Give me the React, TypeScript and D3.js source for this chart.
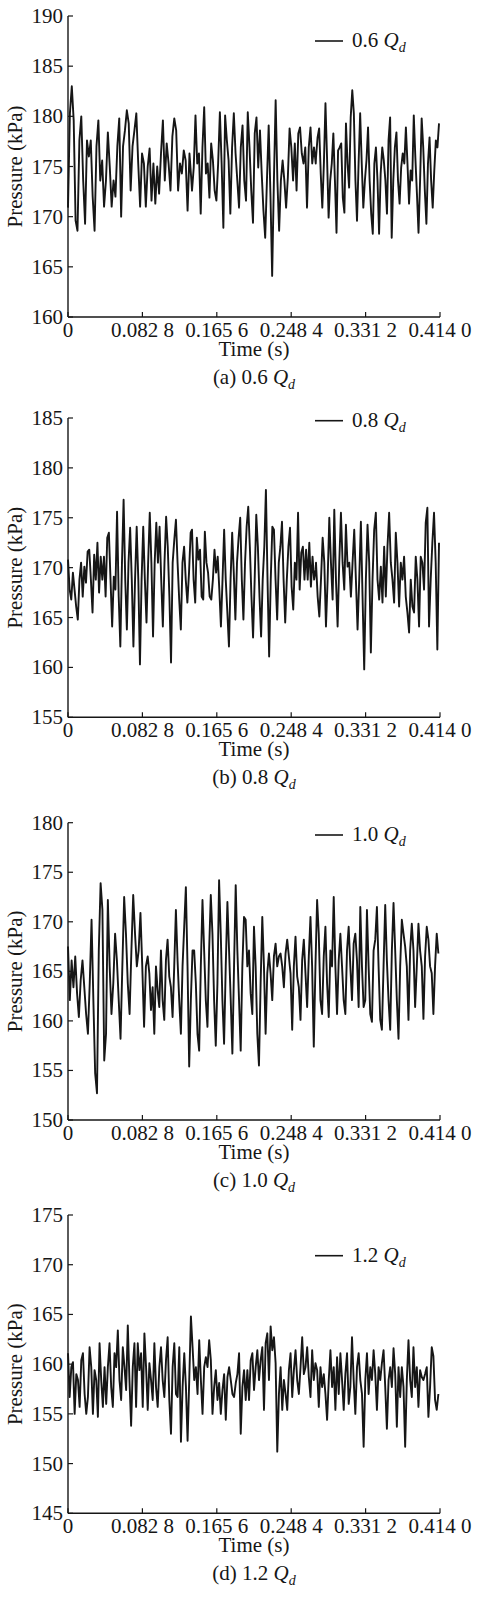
import React from "react";
import * as d3 from "d3";

// ---------- shared axis data ----------
const timeTicks = [0, 0.0828, 0.1656, 0.2484, 0.3312, 0.414];
const timeTickLabels = ["0", "0.082 8", "0.165 6", "0.248 4", "0.331 2", "0.414 0"];
const timeDomain = [0, 0.414];

// ---------- panel (a) 0.6 Qd ----------
const yDomainA = [160, 190];
const yTicksA = [160, 165, 170, 175, 180, 185, 190];
const spansA = [[0, 0.1373], [0.138, 0.2757], [0.276, 0.4129]];
const pressureA1 = [170.9, 180.3, 183.0, 179.6, 169.6, 168.6, 177.6, 180.0, 173.6, 169.3, 177.6, 176.0, 177.6, 172.0, 168.6, 177.0, 179.6, 173.6, 175.6, 171.0, 173.6, 178.4, 175.0, 171.0, 173.6, 172.0, 177.0, 179.8, 170.0, 177.0, 178.6, 180.6, 179.3, 172.6, 177.0, 178.6, 180.3, 175.3, 171.0, 176.3, 175.3, 171.0, 175.0, 176.8, 171.6, 175.3, 171.3, 175.0, 172.3, 176.3, 179.6, 173.6, 177.3, 175.3, 172.6, 178.0, 179.8, 178.6, 172.6, 175.3, 174.3, 176.6, 175.6, 170.6, 176.3, 173.6];
const pressureA2 = [172.6, 174.9, 180.1, 175.3, 176.3, 170.3, 176.9, 180.9, 174.3, 175.3, 171.9, 177.3, 175.6, 172.6, 171.6, 175.3, 180.4, 175.3, 168.9, 180.1, 177.6, 175.6, 170.3, 176.9, 180.3, 176.3, 173.6, 170.9, 176.9, 179.1, 173.6, 171.6, 180.4, 176.9, 172.6, 169.4, 178.3, 179.9, 174.9, 178.6, 174.3, 170.6, 167.9, 173.6, 179.1, 172.3, 164.1, 173.6, 181.6, 173.6, 168.6, 173.6, 175.6, 173.6, 170.9, 173.9, 178.8, 176.9, 173.6, 177.3, 172.6, 178.3, 178.9, 176.3, 175.3, 176.9, 170.9, 176.9, 178.9, 175.3, 176.9, 175.3];
const pressureA3 = [175.9, 177.9, 178.8, 174.3, 170.9, 175.3, 181.3, 175.9, 169.9, 173.6, 175.3, 178.3, 173.6, 168.4, 176.6, 176.9, 177.3, 171.9, 170.4, 179.3, 175.3, 172.9, 179.9, 182.6, 180.3, 173.6, 169.6, 175.3, 180.3, 175.3, 170.9, 173.6, 175.6, 178.9, 173.6, 170.3, 168.3, 175.3, 176.9, 173.6, 168.3, 174.3, 176.9, 175.6, 173.6, 170.3, 177.6, 179.9, 167.9, 173.6, 176.9, 178.4, 173.6, 171.3, 174.9, 176.3, 175.3, 178.9, 175.3, 171.3, 174.6, 173.6, 180.1, 175.9, 172.3, 168.4, 173.6, 179.8, 176.9, 172.6, 169.3, 175.3, 177.9, 173.6, 170.9, 174.6, 177.6, 176.9, 179.3];

// ---------- panel (b) 0.8 Qd ----------
const yDomainB = [155, 185];
const yTicksB = [155, 160, 165, 170, 175, 180, 185];
const spansB = [[0, 0.1365], [0.138, 0.2757], [0.276, 0.4129]];
const pressureB1 = [170.8, 167.8, 166.8, 169.5, 167.8, 166.1, 164.8, 168.8, 170.5, 167.1, 170.1, 168.5, 171.6, 171.8, 168.8, 165.5, 171.3, 168.8, 172.5, 167.5, 171.1, 168.8, 171.1, 167.1, 173.0, 173.5, 168.8, 164.1, 169.1, 167.8, 175.6, 167.1, 162.1, 170.5, 176.8, 168.8, 163.8, 170.5, 174.0, 168.8, 162.1, 168.8, 174.1, 168.8, 160.3, 168.8, 174.1, 168.8, 164.5, 170.5, 175.5, 170.5, 163.1, 170.5, 174.5, 170.5, 174.1, 168.8, 164.1, 170.5, 175.1, 172.1, 167.1, 160.5, 170.5, 172.8, 174.8, 170.5, 166.8, 163.8, 170.5, 172.1, 168.8, 166.5, 169.5, 173.5];
const pressureB2 = [173.8, 168.8, 166.5, 173.0, 170.8, 171.8, 167.1, 166.8, 173.6, 170.5, 169.5, 167.1, 166.8, 168.8, 171.8, 169.5, 171.1, 167.8, 164.1, 168.8, 173.8, 168.8, 165.5, 162.1, 168.8, 173.5, 169.5, 164.8, 170.5, 173.0, 175.0, 168.8, 164.8, 170.5, 174.1, 176.1, 172.1, 167.1, 163.0, 168.8, 175.3, 172.1, 167.1, 163.1, 168.8, 172.1, 177.8, 168.8, 161.1, 168.8, 174.1, 173.8, 168.8, 164.8, 170.5, 172.1, 174.6, 168.8, 164.5, 168.8, 172.1, 174.0, 168.1, 165.8, 170.5, 168.8, 175.5, 167.8, 171.5, 172.1, 168.8, 171.8, 168.8, 172.5, 168.1, 171.1, 168.8, 169.8];
const pressureB3 = [170.5, 167.1, 165.1, 168.8, 173.0, 170.5, 164.1, 168.8, 175.0, 170.5, 166.8, 175.8, 168.8, 164.1, 170.5, 175.5, 170.5, 167.8, 174.3, 170.1, 170.5, 167.1, 170.5, 173.8, 168.8, 163.8, 168.8, 174.6, 167.1, 159.8, 168.8, 174.3, 170.5, 161.5, 168.8, 173.8, 175.5, 168.8, 166.8, 170.1, 166.5, 172.1, 167.1, 172.1, 175.5, 170.5, 168.8, 166.5, 173.5, 170.5, 166.1, 170.5, 168.8, 171.1, 167.1, 165.5, 163.5, 168.8, 166.1, 165.5, 171.1, 168.8, 164.1, 171.1, 170.5, 167.8, 174.5, 176.0, 164.1, 168.8, 172.5, 175.5, 170.5, 161.8, 172.5];

// ---------- panel (c) 1.0 Qd ----------
const yDomainC = [150, 180];
const yTicksC = [150, 155, 160, 165, 170, 175, 180];
const spansC = [[0, 0.0887], [0.0905, 0.4122]];
const pressureC1 = [167.5, 162.1, 166.1, 163.4, 166.5, 162.8, 160.4, 164.1, 166.1, 163.4, 160.7, 158.7, 163.8, 170.2, 162.1, 154.7, 152.7, 167.1, 173.9, 171.2, 156.0, 158.7, 172.2, 165.5, 160.7, 163.8, 168.8, 166.1, 162.1, 158.2, 165.5, 172.5, 168.8, 163.8, 160.7, 167.1, 172.7, 168.8, 165.5, 167.1, 170.9, 165.5, 159.4, 165.5, 166.5];
const pressureC2 = [164.8, 161.1, 163.4, 158.7, 165.5, 163.1, 161.4, 167.1, 162.1, 160.1, 166.1, 168.2, 164.5, 163.4, 160.4, 165.5, 171.2, 166.1, 162.1, 158.7, 165.5, 169.5, 173.5, 165.5, 155.4, 162.1, 167.1, 167.1, 163.8, 158.7, 157.0, 165.5, 172.2, 167.1, 162.1, 159.4, 167.1, 172.7, 168.8, 162.1, 157.5, 163.8, 174.2, 168.8, 162.1, 157.7, 165.5, 172.0, 167.1, 162.1, 156.7, 165.5, 173.7, 167.1, 162.1, 157.0, 165.5, 170.5, 170.2, 165.5, 167.1, 162.8, 160.7, 169.5, 165.5, 158.7, 155.5, 163.8, 170.5, 165.5, 158.7, 164.8, 166.8, 164.8, 162.1, 166.5, 167.8, 165.5, 166.5, 166.8, 165.5, 163.4, 166.8, 168.2, 166.5, 164.8, 159.1, 165.5, 168.5, 164.5, 163.4, 160.1, 166.1, 168.2, 164.8, 161.4, 166.5, 170.5, 165.5, 157.4, 165.5, 172.2, 168.8, 162.1, 160.7, 166.5, 169.5, 163.8, 160.4, 167.1, 165.5, 172.5, 165.5, 160.7, 166.1, 168.8, 165.5, 162.1, 160.7, 167.1, 169.5, 165.5, 162.1, 167.8, 168.8, 166.1, 161.4, 171.5, 165.5, 161.4, 162.1, 171.2, 165.5, 160.7, 159.9, 167.1, 168.2, 171.5, 165.5, 160.1, 159.1, 165.5, 171.7, 166.1, 162.1, 159.1, 167.1, 171.9, 167.1, 162.1, 158.2, 165.5, 170.2, 168.8, 167.5, 165.5, 160.1, 167.1, 169.8, 167.1, 161.4, 165.5, 169.8, 167.1, 165.5, 160.2, 166.5, 169.5, 168.2, 165.5, 164.8, 160.7, 165.5, 168.8, 166.8];

// ---------- panel (d) 1.2 Qd ----------
const yDomainD = [145, 175];
const yTicksD = [145, 150, 155, 160, 165, 170, 175];
const spansD = [[0, 0.4122]];
const pressureD1 = [161.1, 156.7, 159.7, 160.2, 155.0, 159.0, 158.4, 155.7, 160.4, 161.1, 157.0, 155.0, 156.7, 161.7, 159.7, 155.0, 159.4, 158.4, 154.7, 162.1, 158.4, 155.7, 159.7, 156.0, 159.7, 162.1, 157.7, 155.7, 161.1, 159.7, 163.4, 158.4, 156.4, 161.7, 159.7, 157.4, 163.9, 158.4, 153.8, 159.7, 162.1, 155.7, 162.1, 159.4, 161.1, 155.7, 163.1, 159.7, 155.4, 160.1, 158.4, 156.4, 162.1, 157.7, 155.7, 159.7, 161.7, 158.4, 156.7, 160.4, 162.7, 156.4, 153.0, 159.7, 162.1, 157.0, 156.7, 161.7, 152.2, 157.7, 161.1, 157.7, 152.3, 158.4, 164.8, 161.7, 158.4, 159.7, 157.0, 162.4, 158.4, 155.0, 159.7, 160.7, 159.7, 162.4, 160.4, 155.0, 157.7, 159.4, 156.4, 158.1, 155.0, 157.4, 159.0, 154.4, 158.7, 159.7, 158.4, 157.0, 156.7, 158.1, 159.0, 161.1, 153.0, 157.7, 159.4, 156.4, 159.4, 156.4, 160.4, 161.1, 157.4, 159.7, 161.4, 158.4, 160.4, 161.7, 155.4, 162.1, 163.1, 158.4, 163.8, 161.4, 162.7, 160.1, 151.2, 157.0, 159.7, 155.4, 158.4, 157.0, 155.4, 159.4, 161.1, 156.7, 159.4, 161.4, 158.4, 157.0, 159.7, 162.7, 159.0, 159.7, 161.7, 158.7, 156.7, 161.4, 158.4, 160.1, 159.4, 155.7, 159.7, 157.7, 159.0, 157.0, 154.4, 158.4, 161.4, 157.7, 159.7, 155.4, 160.7, 157.0, 161.1, 158.4, 155.4, 159.0, 161.1, 156.0, 157.7, 162.7, 158.4, 155.0, 159.7, 161.1, 158.4, 157.0, 151.7, 158.4, 161.1, 157.0, 159.7, 158.4, 161.4, 159.0, 155.4, 159.7, 158.4, 160.1, 161.4, 157.7, 153.5, 158.4, 159.7, 157.7, 161.6, 159.0, 153.7, 159.7, 156.7, 159.7, 157.7, 151.7, 158.4, 162.4, 158.4, 156.7, 161.7, 157.7, 159.7, 155.7, 159.4, 158.7, 158.4, 159.0, 159.7, 154.7, 157.7, 161.7, 160.8, 156.4, 155.4, 157.0];

const flowLabels = ["0.6", "0.8", "1.0", "1.2"];
const panelLetters = ["a", "b", "c", "d"];

// ---------- layout (positions only) ----------
const W = 479;
const H = 1597;
const X0 = 68;
const X1 = 440;
const layout = [
  { top: 16, bottom: 317, legendDy: 25 },
  { top: 418, bottom: 717.3, legendDy: 2.7 },
  { top: 822.7, bottom: 1120, legendDy: 12.3 },
  { top: 1215, bottom: 1513.3, legendDy: 40.7 },
];
const FONT = "'Liberation Serif', 'Times New Roman', Times, serif";
const FS = 21;
const INK = "#161616";

const panelData = [
  { yDomain: yDomainA, yTicks: yTicksA, spans: spansA, segments: [pressureA1, pressureA2, pressureA3] },
  { yDomain: yDomainB, yTicks: yTicksB, spans: spansB, segments: [pressureB1, pressureB2, pressureB3] },
  { yDomain: yDomainC, yTicks: yTicksC, spans: spansC, segments: [pressureC1, pressureC2] },
  { yDomain: yDomainD, yTicks: yTicksD, spans: spansD, segments: [pressureD1] },
];

function Qd({ prefix }: { prefix: string }) {
  return (
    <>
      {prefix}
      <tspan fontStyle="italic">Q</tspan>
      <tspan fontStyle="italic" fontSize={14} dy={5}>d</tspan>
    </>
  );
}

function Panel({ idx }: { idx: number }) {
  const pd = panelData[idx];
  const lay = layout[idx];
  const x = d3.scaleLinear().domain(timeDomain).range([X0, X1]);
  const y = d3.scaleLinear().domain(pd.yDomain).range([lay.bottom, lay.top]);

  const points: [number, number][] = [];
  pd.segments.forEach((seg, k) => {
    const [t0, t1] = pd.spans[k];
    const n = seg.length;
    seg.forEach((v, i) => {
      const t = t0 + ((t1 - t0) * i) / (n - 1);
      points.push([t, v]);
    });
  });
  const line = d3
    .line<[number, number]>()
    .x((d) => x(d[0]))
    .y((d) => y(d[1]));

  const cx = (X0 + X1) / 2;
  const legY = lay.top + lay.legendDy;

  return (
    <g style={{ fontFamily: FONT }} fill={INK}>
      <path d={line(points) || ""} fill="none" stroke={INK} strokeWidth={1.9} strokeLinejoin="round" />
      {/* axes */}
      <line x1={X0} x2={X0} y1={lay.top} y2={lay.bottom} stroke={INK} strokeWidth={1.4} />
      <line x1={X0} x2={X1} y1={lay.bottom} y2={lay.bottom} stroke={INK} strokeWidth={1.4} />
      {pd.yTicks.map((v) => (
        <g key={"y" + v}>
          <line x1={X0} x2={X0 + 5} y1={y(v)} y2={y(v)} stroke={INK} strokeWidth={1.2} />
          <text x={X0 - 5} y={y(v) + 7} textAnchor="end" fontSize={FS}>
            {v}
          </text>
        </g>
      ))}
      {timeTicks.map((t, i) => (
        <g key={"x" + i}>
          <line x1={x(t)} x2={x(t)} y1={lay.bottom} y2={lay.bottom - 5} stroke={INK} strokeWidth={1.2} />
          <text x={x(t)} y={lay.bottom + 20} textAnchor="middle" fontSize={FS}>
            {timeTickLabels[i]}
          </text>
        </g>
      ))}
      <text x={cx} y={lay.bottom + 39} textAnchor="middle" fontSize={FS}>
        Time (s)
      </text>
      <text
        transform={`translate(21.5, ${(lay.top + lay.bottom) / 2}) rotate(-90)`}
        textAnchor="middle"
        fontSize={FS}
      >
        Pressure (kPa)
      </text>
      {/* legend */}
      <line x1={315} x2={343} y1={legY} y2={legY} stroke={INK} strokeWidth={1.6} />
      <text x={352} y={legY + 6} fontSize={FS}>
        <Qd prefix={flowLabels[idx] + " "} />
      </text>
      {/* caption */}
      <text x={cx} y={lay.bottom + 67} textAnchor="middle" fontSize={FS}>
        <Qd prefix={`(${panelLetters[idx]}) ${flowLabels[idx]} `} />
      </text>
    </g>
  );
}

export default function App() {
  return (
    <div style={{ position: "absolute", left: 0, top: 0 }}>
      <svg width={W} height={H} style={{ display: "block", background: "#fff" }}>
        {[0, 1, 2, 3].map((i) => (
          <Panel key={i} idx={i} />
        ))}
      </svg>
    </div>
  );
}
